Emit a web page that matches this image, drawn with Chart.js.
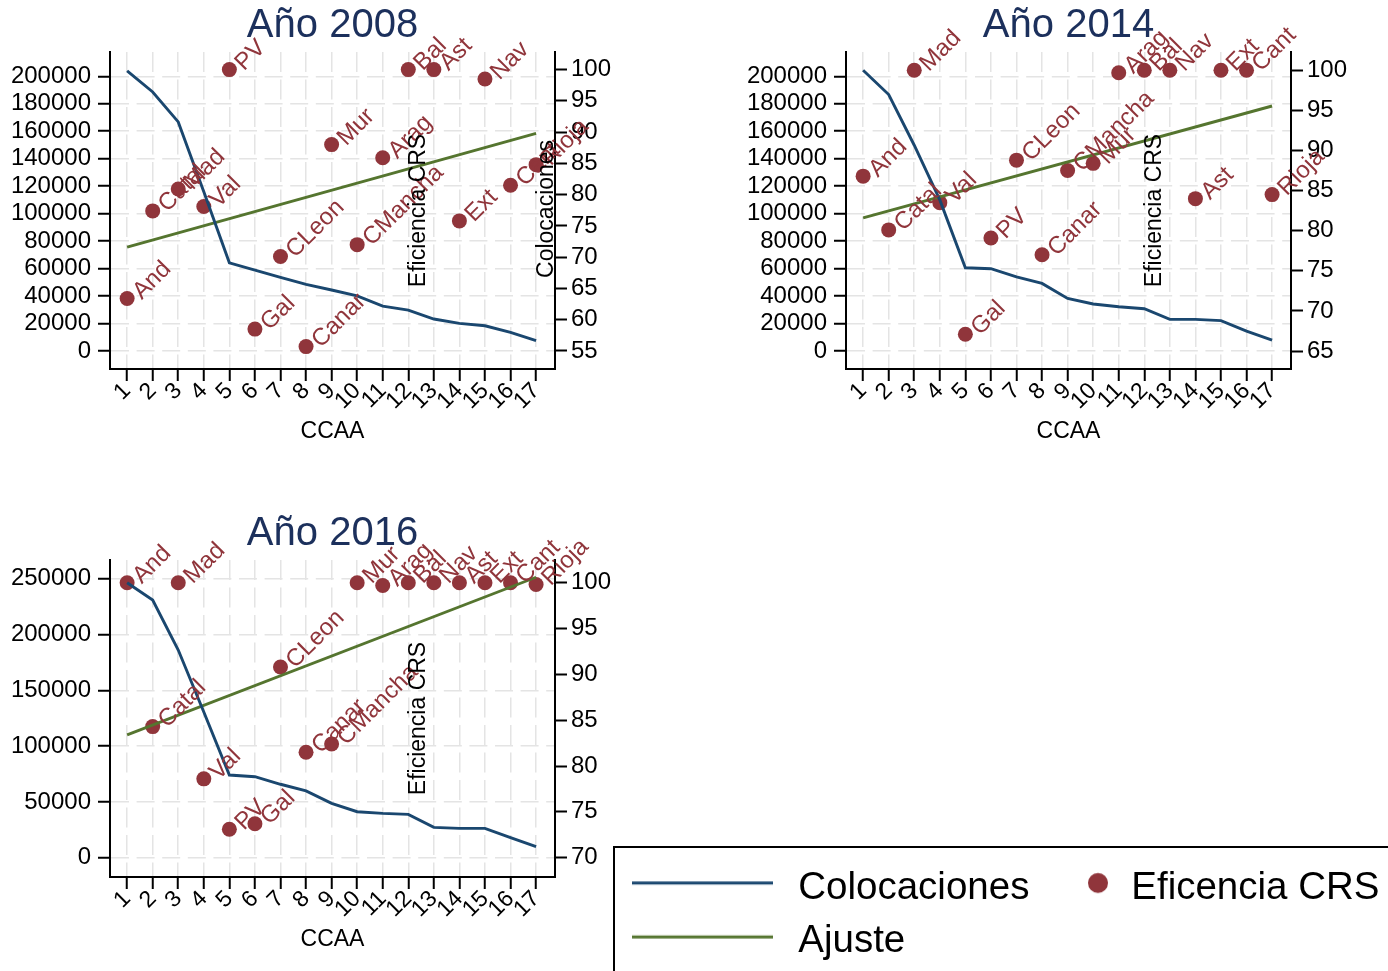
<!DOCTYPE html>
<html><head><meta charset="utf-8">
<script src="https://cdn.jsdelivr.net/npm/chart.js@4.4.1/dist/chart.umd.min.js"></script>
<style>
html,body{margin:0;padding:0;background:#fff;overflow:hidden;width:1388px;height:971px;}
canvas{position:absolute;}
</style></head><body>
<canvas id="c2008" width="640" height="460" style="left:0px;top:0px"></canvas>
<canvas id="c2014" width="640" height="460" style="left:736px;top:0px"></canvas>
<canvas id="c2016" width="640" height="460" style="left:0px;top:508px"></canvas>
<canvas id="cleg" width="840" height="260" style="left:613px;top:846px"></canvas>
<canvas id="cleg2" width="420" height="260" style="left:1040px;top:846px"></canvas>
<script>
// ---------------- DATA ----------------
const ccaa = [1,2,3,4,5,6,7,8,9,10,11,12,13,14,15,16,17];

const labels2008 = ['And','Catal','Mad','Val','PV','Gal','CLeon','Canar','Mur','CMancha','Arag','Bal','Ast','Ext','Nav','Cant','Rioja'];
const eficiencia2008 = [63.4,77.4,80.9,78.1,100,58.5,70.1,55.7,88.0,72.0,85.9,100,100,75.8,98.5,81.5,84.8];
const colocaciones2008 = [204000,188600,166800,116000,64200,58900,53600,48500,44400,40200,32700,29800,23300,20100,18400,13600,7500];
const ajuste2008 = [71.6, 89.8];
const leftTicks2008 = [0,20000,40000,60000,80000,100000,120000,140000,160000,180000,200000];
const rightTicks2008 = [55,60,65,70,75,80,85,90,95,100];

const labels2014 = ['And','Catal','Mad','Val','Gal','PV','CLeon','Canar','CMancha','Mur','Arag','Bal','Nav','Ast','Ext','Cant','Rioja'];
const eficiencia2014 = [86.8,80.1,100,83.5,67.1,79.1,88.8,77.0,87.5,88.4,99.7,100,100,84.0,100,100,84.5];
const colocaciones2014 = [204400,186700,149800,110000,60600,59900,54000,49200,38300,34200,32200,30800,23000,23000,22100,14500,8000];
const ajuste2014 = [81.6, 95.55];
const leftTicks2014 = [0,20000,40000,60000,80000,100000,120000,140000,160000,180000,200000];
const rightTicks2014 = [65,70,75,80,85,90,95,100];

const labels2016 = ['And','Catal','Mad','Val','PV','Gal','CLeon','Canar','CMancha','Mur','Arag','Bal','Nav','Ast','Ext','Cant','Rioja'];
const eficiencia2016 = [100,84.3,100,78.6,73.1,73.7,90.8,81.5,82.4,100,99.7,100,100,100,100,100,99.8];
const colocaciones2016 = [246400,230900,186100,130500,74100,72600,65800,59800,48700,41200,39700,38800,27200,26300,26300,17900,9900];
const ajuste2016 = [83.4, 100.6];
const leftTicks2016 = [0,50000,100000,150000,200000,250000];
const rightTicks2016 = [70,75,80,85,90,95,100];

const legendNamesCol1 = ['Colocaciones','Ajuste'];
const legendNamesCol2 = ['Eficencia CRS'];

// ---------------- STYLE ----------------
const FONT = "'Liberation Sans', Arial, Helvetica, sans-serif";
Chart.defaults.font.family = FONT;
Chart.defaults.color = '#000';
const NAVY = '#1a476f', MAROON = '#90353b', GREEN = '#55752f', TITLE = '#1c305c';
const GRID = '#e4e4e4';

const markerLabels = {
  id: 'markerLabels',
  afterDatasetsDraw(chart, args, opts) {
    const meta = chart.getDatasetMeta(opts.datasetIndex);
    const ctx = chart.ctx;
    ctx.save();
    ctx.font = '24px ' + FONT;
    ctx.fillStyle = MAROON;
    ctx.textAlign = 'left';
    ctx.textBaseline = 'middle';
    meta.data.forEach((pt, i) => {
      ctx.save();
      ctx.translate(pt.x, pt.y);
      ctx.rotate(-Math.PI / 4);
      ctx.fillText(opts.labels[i], 9, 5);
      ctx.restore();
    });
    ctx.restore();
  }
};

const innerTitles = {
  id: 'innerTitles',
  afterDraw(chart, args, opts) {
    const {left, right, top, bottom} = chart.chartArea;
    const ctx = chart.ctx;
    ctx.save();
    ctx.font = '23px ' + FONT;
    ctx.fillStyle = '#000';
    ctx.textAlign = 'center';
    ctx.textBaseline = 'middle';
    (opts.items || []).forEach(it => {
      ctx.save();
      ctx.translate(left + it.fx * (right - left), top + it.fy * (bottom - top));
      ctx.rotate(-Math.PI / 2);
      ctx.fillText(it.text, 0, 0);
      ctx.restore();
    });
    ctx.restore();
  }
};

function makePanel(id, title, labels, efic, coloc, ajuste, leftTicks, rightTicks, yRange, y1Range, inner) {
  const pts = (arr) => ccaa.map((x, i) => ({x: x, y: arr[i]}));
  return new Chart(document.getElementById(id), {
    type: 'line',
    data: {
      datasets: [
        {label: 'Colocaciones', data: pts(coloc), yAxisID: 'y', borderColor: NAVY, borderWidth: 2.9, pointRadius: 0, tension: 0, fill: false},
        {label: 'Ajuste', data: [{x: ccaa[0], y: ajuste[0]}, {x: ccaa[ccaa.length - 1], y: ajuste[1]}], yAxisID: 'y1', borderColor: GREEN, borderWidth: 2.9, pointRadius: 0, fill: false},
        {label: 'Eficencia CRS', data: pts(efic), yAxisID: 'y1', showLine: false, pointRadius: 7.5, pointHoverRadius: 7.5, pointBorderWidth: 0, pointBackgroundColor: MAROON, borderColor: MAROON}
      ]
    },
    options: {
      responsive: false, animation: false, devicePixelRatio: 1, events: [],
      layout: {padding: {top: 0, left: 0, right: 0, bottom: 0}},
      plugins: {
        legend: {display: false}, tooltip: {enabled: false},
        title: {display: true, text: title, color: TITLE, fullSize: false, font: {size: 40, weight: 'normal'}, padding: {top: 2, bottom: 2}},
        markerLabels: {datasetIndex: 2, labels: labels},
        innerTitles: {items: inner}
      },
      scales: {
        x: {
          type: 'linear', position: 'bottom', min: 0.33, max: 17.74,
          afterBuildTicks: s => { s.ticks = ccaa.map(v => ({value: v})); },
          afterFit: s => { s.height = 91; },
          ticks: {autoSkip: false, minRotation: 45, maxRotation: 45, padding: -3.5, font: {size: 23}, color: '#000', callback: v => String(v)},
          grid: {color: GRID, lineWidth: 1.5, drawTicks: true, tickLength: 12, tickColor: '#000', tickWidth: 2},
          border: {display: true, color: '#000', width: 2, dash: [20, 7.5]},
          title: {display: true, text: 'CCAA', color: '#000', font: {size: 23}, padding: {top: 0, bottom: 14.2}}
        },
        y: {
          type: 'linear', position: 'left', min: yRange[0], max: yRange[1],
          afterBuildTicks: s => { s.ticks = leftTicks.map(v => ({value: v})); },
          afterFit: s => { s.width = 110; },
          ticks: {autoSkip: false, padding: 7, font: {size: 24}, color: '#000', callback: v => String(v)},
          grid: {color: GRID, lineWidth: 1.5, drawTicks: true, tickLength: 12, tickColor: '#000', tickWidth: 2},
          border: {display: true, color: '#000', width: 2, dash: [18, 7.6]}
        },
        y1: {
          type: 'linear', position: 'right', min: y1Range[0], max: y1Range[1],
          afterBuildTicks: s => { s.ticks = rightTicks.map(v => ({value: v})); },
          afterFit: s => { s.width = 85; },
          ticks: {autoSkip: false, padding: 4, font: {size: 24}, color: '#000', callback: v => String(v)},
          grid: {drawOnChartArea: false, drawTicks: true, tickLength: 12, tickColor: '#000', tickWidth: 2},
          border: {display: true, color: '#000', width: 2}
        }
      }
    },
    plugins: [markerLabels, innerTitles]
  });
}

makePanel('c2008', 'Año 2008', labels2008, eficiencia2008, colocaciones2008, ajuste2008, leftTicks2008, rightTicks2008,
  [-13091, 217673], [52.12, 102.81],
  [{text: 'Eficiencia CRS', fx: 0.693, fy: 0.5}, {text: 'Colocaciones', fx: 0.982, fy: 0.495}]);
makePanel('c2014', 'Año 2014', labels2014, eficiencia2014, colocaciones2014, ajuste2014, leftTicks2014, rightTicks2014,
  [-13091, 217673], [62.76, 102.28],
  [{text: 'Eficiencia CRS', fx: 0.693, fy: 0.5}]);
makePanel('c2016', 'Año 2016', labels2016, eficiencia2016, colocaciones2016, ajuste2016, leftTicks2016, rightTicks2016,
  [-17294, 266756], [67.89, 102.48],
  [{text: 'Eficiencia CRS', fx: 0.693, fy: 0.5}]);

// ---------------- LEGEND ----------------
function lineImg(w, h, x0, x1, y, color) {
  const c = document.createElement('canvas'); c.width = w; c.height = h;
  const g = c.getContext('2d'); g.strokeStyle = color; g.lineWidth = 3;
  g.beginPath(); g.moveTo(x0, y); g.lineTo(x1, y); g.stroke();
  return c;
}
function dotImg(w, h, cx, cy, r, color) {
  const c = document.createElement('canvas'); c.width = w; c.height = h;
  const g = c.getContext('2d'); g.fillStyle = color;
  g.beginPath(); g.arc(cx, cy, r, 0, Math.PI * 2); g.fill();
  return c;
}
const symbolsCol1 = [lineImg(147, 20, 0, 141, 4.75, NAVY), lineImg(147, 20, 0, 141, 5.25, GREEN)];
const symbolsCol2 = [dotImg(32, 40, 21, 14.75, 10, MAROON)];

const legendFrame = {
  id: 'legendFrame',
  beforeDraw(chart) {
    const ctx = chart.ctx;
    ctx.save(); ctx.strokeStyle = '#000'; ctx.lineWidth = 2;
    ctx.strokeRect(1, 1, chart.width + 20, chart.height + 20);
    ctx.restore();
  }
};

function makeLegend(id, names, symbols, padding, boxW, extraPlugins) {
  return new Chart(document.getElementById(id), {
    type: 'line',
    data: {datasets: names.map(n => ({label: n, data: []}))},
    options: {
      responsive: false, animation: false, devicePixelRatio: 1, events: [],
      layout: {padding: padding},
      scales: {x: {display: false}, y: {display: false}},
      plugins: {
        tooltip: {enabled: false}, title: {display: false},
        legend: {
          display: true, position: 'top', align: 'start',
          labels: {
            usePointStyle: true, pointStyleWidth: boxW, padding: 15, color: '#000', font: {size: 38.5},
            generateLabels: () => names.map((t, i) => ({
              text: t, pointStyle: symbols[i], fillStyle: 'rgba(0,0,0,0)', strokeStyle: 'rgba(0,0,0,0)',
              lineWidth: 0, hidden: false, datasetIndex: i, fontColor: '#000'
            }))
          }
        }
      }
    },
    plugins: extraPlugins
  });
}
makeLegend('cleg', legendNamesCol1, symbolsCol1, {left: 4, top: 8, right: 300, bottom: 0}, 147, [legendFrame]);
makeLegend('cleg2', legendNamesCol2, symbolsCol2, {left: 19, top: 8, right: 0, bottom: 0}, 38, []);
</script>
</body></html>
